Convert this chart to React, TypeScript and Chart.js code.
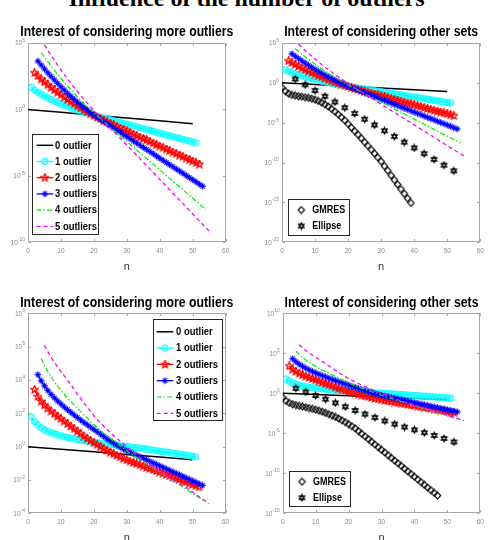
import { useEffect, useRef } from "react";
import { Chart, registerables } from "chart.js";

Chart.register(...registerables);

const FONT = "'Liberation Sans', Arial, Helvetica, sans-serif";
const AXIS_GRAY = "#a6a6a6";
const TICK_GRAY = "#8a8a8a";

// ---------- Problem 1 (top row): log10 of the residual against iteration n ----------
const top0N = [0, 10, 20, 30, 40, 50];
const top0 = [0, -0.22, -0.43, -0.65, -0.86, -1.08];
const top1Start = 1;
const top1 = [1.66, 1.46, 1.29, 1.14, 1.0, 0.87, 0.75, 0.63, 0.52, 0.42, 0.32, 0.22, 0.13, 0.04, -0.05, -0.13, -0.21, -0.29, -0.37, -0.44, -0.51,
  -0.58, -0.65, -0.71, -0.78, -0.85, -0.91, -0.98, -1.05, -1.11, -1.18, -1.25, -1.31, -1.38, -1.45, -1.52, -1.58, -1.65, -1.72, -1.78, -1.85,
  -1.92, -1.98, -2.05, -2.12, -2.18, -2.25, -2.32, -2.38, -2.45, -2.52];
const top2Start = 2;
const top2 = [2.76, 2.52, 2.29, 2.07, 1.86, 1.66, 1.47, 1.28, 1.1, 0.92, 0.75, 0.58, 0.42, 0.26, 0.11, -0.04, -0.19, -0.33, -0.47, -0.6,
  -0.71, -0.83, -0.94, -1.05, -1.17, -1.28, -1.4, -1.51, -1.62, -1.74, -1.85, -1.96, -2.08, -2.19, -2.3, -2.42, -2.53, -2.64, -2.76, -2.87,
  -2.98, -3.1, -3.21, -3.32, -3.44, -3.55, -3.66, -3.78, -3.89, -4.0, -4.12];
const top3Start = 3;
const top3 = [3.64, 3.34, 3.05, 2.76, 2.49, 2.22, 1.96, 1.7, 1.46, 1.22, 0.99, 0.77, 0.55, 0.34, 0.14, -0.05, -0.24, -0.42, -0.59,
  -0.75, -0.91, -1.08, -1.24, -1.4, -1.56, -1.72, -1.89, -2.05, -2.21, -2.37, -2.53, -2.7, -2.86, -3.02, -3.18, -3.34, -3.51, -3.67, -3.83,
  -3.99, -4.16, -4.32, -4.48, -4.64, -4.8, -4.97, -5.13, -5.29, -5.45, -5.62, -5.78];
const top4N = [4, 6, 8, 10, 12, 14, 16, 18, 20, 21, 30, 40, 54];
const top4 = [4.27, 3.6, 2.96, 2.35, 1.77, 1.22, 0.7, 0.2, -0.27, -0.5, -2.42, -4.55, -7.54];
const top5N = [5, 7, 9, 11, 13, 15, 17, 19, 21, 30, 40, 55];
const top5 = [4.85, 4.07, 3.33, 2.63, 1.97, 1.35, 0.76, 0.2, -0.35, -2.68, -5.27, -9.17];
const topGmresStart = 0;
const topGmres = [-0.57, -1.05, -1.35, -1.5, -1.6, -1.67, -1.73, -1.8, -1.89, -1.99, -2.11, -2.27, -2.47, -2.7, -2.97, -3.27, -3.6, -3.95,
  -4.32, -4.7, -5.15, -5.6, -6.05, -6.5, -6.95, -7.42, -7.9, -8.38, -8.86, -9.34, -9.85, -10.43, -11.0, -11.6, -12.17, -12.75, -13.33,
  -13.9, -14.48, -15.06];
const topEllipseN = [4, 7, 10, 13, 16, 19, 22, 25, 28, 31, 34, 37, 40, 43, 46, 49, 52];
const topEllipse = [0.48, -0.24, -0.96, -1.68, -2.4, -3.12, -3.84, -4.56, -5.28, -6.0, -6.72, -7.44, -8.16, -8.88, -9.6, -10.32, -11.04];

// ---------- Problem 2 (bottom row) ----------
const bot0N = [0, 10, 20, 30, 40, 50];
const bot0 = [0, -0.16, -0.31, -0.47, -0.62, -0.78];
const bot1Start = 1;
const bot1 = [1.78, 1.5, 1.3, 1.14, 1.02, 0.92, 0.84, 0.77, 0.71, 0.65, 0.6, 0.55, 0.51, 0.47, 0.43, 0.39, 0.36, 0.33, 0.3, 0.27,
  0.24, 0.21, 0.18, 0.16, 0.13, 0.11, 0.08, 0.06, 0.03, 0.01, -0.02, -0.04, -0.07, -0.09, -0.12, -0.15, -0.18, -0.21, -0.24, -0.27,
  -0.3, -0.33, -0.36, -0.39, -0.42, -0.45, -0.48, -0.51, -0.54, -0.58, -0.62];
const bot2Start = 2;
const bot2 = [3.42, 3.0, 2.72, 2.5, 2.3, 2.13, 1.97, 1.82, 1.67, 1.52, 1.37, 1.22, 1.07, 0.92, 0.77, 0.63, 0.49, 0.36, 0.23, 0.11,
  -0.01, -0.12, -0.23, -0.33, -0.43, -0.53, -0.62, -0.71, -0.8, -0.87, -0.95, -1.02, -1.09, -1.17, -1.24, -1.31, -1.39, -1.46, -1.53,
  -1.61, -1.68, -1.75, -1.83, -1.9, -1.97, -2.05, -2.12, -2.19, -2.27, -2.34, -2.42];
const bot3Start = 3;
const bot3 = [4.32, 3.95, 3.65, 3.38, 3.14, 2.93, 2.74, 2.56, 2.38, 2.22, 2.06, 1.9, 1.75, 1.6, 1.45, 1.31, 1.17, 1.03, 0.89, 0.75,
  0.61, 0.47, 0.34, 0.21, 0.08, -0.04, -0.15, -0.25, -0.34, -0.43, -0.52, -0.61, -0.7, -0.79, -0.88, -0.97, -1.06, -1.15, -1.24, -1.33,
  -1.42, -1.51, -1.6, -1.69, -1.78, -1.87, -1.96, -2.05, -2.14, -2.23, -2.32];
const bot4N = [4, 6, 8, 10, 12, 14, 17, 20, 23, 27, 32, 37, 42, 48, 54];
const bot4 = [5.28, 4.5, 3.88, 3.38, 2.92, 2.5, 1.9, 1.33, 0.8, 0.2, -0.52, -1.17, -1.8, -2.55, -3.32];
const bot5N = [5, 7, 9, 11, 13, 15, 18, 21, 25, 30, 35, 42, 48, 55];
const bot5 = [6.08, 5.35, 4.78, 4.25, 3.72, 3.15, 2.35, 1.62, 0.84, -0.02, -0.82, -1.72, -2.45, -3.42];
const botGmresStart = 0;
const botGmres = [-0.54, -0.95, -1.2, -1.36, -1.47, -1.56, -1.65, -1.74, -1.84, -1.94, -2.05, -2.17, -2.3, -2.45, -2.6, -2.77, -2.95,
  -3.15, -3.37, -3.6, -3.85, -4.11, -4.38, -4.72, -5.05, -5.39, -5.72, -6.06, -6.4, -6.73, -7.07, -7.4, -7.74, -8.08, -8.41, -8.75,
  -9.08, -9.42, -9.76, -10.09, -10.43, -10.76, -11.1, -11.44, -11.77, -12.11, -12.44, -12.78];
const botEllipseN = [4, 7, 10, 13, 16, 19, 22, 25, 28, 31, 34, 37, 40, 43, 46, 49, 52];
const botEllipse = [0.62, 0.17, -0.27, -0.73, -1.2, -1.68, -2.15, -2.6, -3.03, -3.45, -3.85, -4.22, -4.57, -4.92, -5.27, -5.65, -6.08];

const outlierLabels = ["0 outlier", "1 outlier", "2 outliers", "3 outliers", "4 outliers", "5 outliers"];
const methodLabels = ["GMRES", "Ellipse"];
const xTicks = [0, 10, 20, 30, 40, 50, 60];

// ---------- styling ----------
type Marker = "circle" | "pentagram" | "asterisk" | "diamond" | "hexagram";
type Style = { color: string; width: number; dash: number[]; line: boolean; marker?: Marker };
const STYLES: Record<string, Style> = {
  o0: { color: "#000000", width: 1.5, dash: [], line: true },
  o1: { color: "#00ffff", width: 1.3, dash: [], line: true, marker: "circle" },
  o2: { color: "#ff0000", width: 1.3, dash: [], line: true, marker: "pentagram" },
  o3: { color: "#0000ff", width: 1.3, dash: [], line: true, marker: "asterisk" },
  o4: { color: "#00ee00", width: 1.2, dash: [5, 2, 1.5, 2], line: true },
  o5: { color: "#ff00ff", width: 1.3, dash: [4, 3], line: true },
  gmres: { color: "#000000", width: 0, dash: [], line: false, marker: "diamond" },
  ellipse: { color: "#000000", width: 0, dash: [], line: false, marker: "hexagram" },
};

const markerCache = new Map<string, HTMLCanvasElement>();
function markerImage(kind: Marker, color: string): HTMLCanvasElement {
  const key = kind + color;
  const hit = markerCache.get(key);
  if (hit) return hit;
  const S = 9;
  const c = document.createElement("canvas");
  c.width = S;
  c.height = S;
  const g = c.getContext("2d")!;
  const m = S / 2;
  g.strokeStyle = color;
  g.lineWidth = 1.3;
  g.beginPath();
  if (kind === "circle") {
    g.arc(m, m, 2.8, 0, Math.PI * 2);
  } else if (kind === "diamond") {
    g.lineWidth = 1.1;
    g.moveTo(m, m - 3.4); g.lineTo(m + 3.2, m); g.lineTo(m, m + 3.4); g.lineTo(m - 3.2, m); g.closePath();
  } else if (kind === "asterisk") {
    g.lineWidth = 1.2;
    g.moveTo(m, m - 3.3); g.lineTo(m, m + 3.3);
    g.moveTo(m - 3.3, m); g.lineTo(m + 3.3, m);
    g.moveTo(m - 2.2, m - 2.2); g.lineTo(m + 2.2, m + 2.2);
    g.moveTo(m - 2.2, m + 2.2); g.lineTo(m + 2.2, m - 2.2);
  } else if (kind === "pentagram") {
    for (let k = 0; k < 10; k++) {
      const r = k % 2 === 0 ? 4 : 1.8;
      const ang = -Math.PI / 2 + (k * Math.PI) / 5;
      const px = m + r * Math.cos(ang), py = m + r * Math.sin(ang);
      if (k === 0) g.moveTo(px, py); else g.lineTo(px, py);
    }
    g.closePath();
  } else {
    g.lineWidth = 1.4;
    for (let t = 0; t < 2; t++) {
      for (let k = 0; k < 3; k++) {
        const ang = -Math.PI / 2 + t * Math.PI + (k * 2 * Math.PI) / 3;
        const px = m + 3.0 * Math.cos(ang), py = m + 3.0 * Math.sin(ang);
        if (k === 0) g.moveTo(px, py); else g.lineTo(px, py);
      }
      g.closePath();
    }
  }
  g.stroke();
  markerCache.set(key, c);
  return c;
}

type Series = { label: string; style: string; n: number[]; logRes: number[] };
const run = (start: number, values: number[]) => values.map((_, i) => start + i);

const topOutliers: Series[] = [
  { label: outlierLabels[0], style: "o0", n: top0N, logRes: top0 },
  { label: outlierLabels[1], style: "o1", n: run(top1Start, top1), logRes: top1 },
  { label: outlierLabels[2], style: "o2", n: run(top2Start, top2), logRes: top2 },
  { label: outlierLabels[3], style: "o3", n: run(top3Start, top3), logRes: top3 },
  { label: outlierLabels[4], style: "o4", n: top4N, logRes: top4 },
  { label: outlierLabels[5], style: "o5", n: top5N, logRes: top5 },
];
const topMethods: Series[] = [
  { label: methodLabels[0], style: "gmres", n: run(topGmresStart, topGmres), logRes: topGmres },
  { label: methodLabels[1], style: "ellipse", n: topEllipseN, logRes: topEllipse },
];
const botOutliers: Series[] = [
  { label: outlierLabels[0], style: "o0", n: bot0N, logRes: bot0 },
  { label: outlierLabels[1], style: "o1", n: run(bot1Start, bot1), logRes: bot1 },
  { label: outlierLabels[2], style: "o2", n: run(bot2Start, bot2), logRes: bot2 },
  { label: outlierLabels[3], style: "o3", n: run(bot3Start, bot3), logRes: bot3 },
  { label: outlierLabels[4], style: "o4", n: bot4N, logRes: bot4 },
  { label: outlierLabels[5], style: "o5", n: bot5N, logRes: bot5 },
];
const botMethods: Series[] = [
  { label: methodLabels[0], style: "gmres", n: run(botGmresStart, botGmres), logRes: botGmres },
  { label: methodLabels[1], style: "ellipse", n: botEllipseN, logRes: botEllipse },
];

type LegendBox = {
  x: number; y: number; w: number; h: number; first: number; row: number;
  lineX0: number; lineX1: number; markX: number; textX: number; font: number; squeeze: number;
  entries: Series[];
};
type PanelDef = {
  key: string;
  box: { x: number; y: number; w: number; h: number };
  area: { l: number; t: number; r: number; b: number };
  title: string;
  titleGap: number;
  yExp: number[];
  series: Series[];
  legend: LegendBox;
};

const PANELS: PanelDef[] = [
  {
    key: "tl",
    box: { x: 0, y: 0, w: 246, h: 272 },
    area: { l: 28, t: 43, r: 225.7, b: 242.3 },
    title: "Interest of considering more outliers",
    titleGap: 7,
    yExp: [-10, -5, 0, 5],
    series: topOutliers,
    legend: { x: 4.3, y: 91.3, w: 66, h: 99.5, first: 11, row: 16.2, lineX0: 4.3, lineX1: 21, markX: 12.6, textX: 22.7, font: 10.5, squeeze: 0.9, entries: topOutliers },
  },
  {
    key: "tr",
    box: { x: 246, y: 0, w: 247, h: 272 },
    area: { l: 282, t: 43, r: 480.3, b: 242.3 },
    title: "Interest of considering other sets",
    titleGap: 7,
    yExp: [-20, -15, -10, -5, 0, 5],
    series: [...topOutliers, ...topMethods],
    legend: { x: 6, y: 156.3, w: 61, h: 35.7, first: 10.7, row: 16, lineX0: 0, lineX1: 0, markX: 13.3, textX: 24.3, font: 10, squeeze: 0.9, entries: topMethods },
  },
  {
    key: "bl",
    box: { x: 0, y: 272, w: 246, h: 268 },
    area: { l: 28, t: 313.3, r: 225.5, b: 513.3 },
    title: "Interest of considering more outliers",
    titleGap: 6,
    yExp: [-4, -2, 0, 2, 4, 6, 8],
    series: botOutliers,
    legend: { x: 124.7, y: 6, w: 69, h: 101, first: 12.5, row: 16.3, lineX0: 4, lineX1: 20.6, markX: 12.3, textX: 23.3, font: 10.5, squeeze: 0.9, entries: botOutliers },
  },
  {
    key: "br",
    box: { x: 246, y: 272, w: 247, h: 268 },
    area: { l: 282.7, t: 313.3, r: 480.3, b: 513.3 },
    title: "Interest of considering other sets",
    titleGap: 6,
    yExp: [-15, -10, -5, 0, 5, 10],
    series: [...botOutliers, ...botMethods],
    legend: { x: 6, y: 157.7, w: 61, h: 35, first: 10.7, row: 16, lineX0: 0, lineX1: 0, markX: 13.3, textX: 24.3, font: 10, squeeze: 0.9, entries: botMethods },
  },
];

function drawMarkerAt(ctx: CanvasRenderingContext2D, st: Style, x: number, y: number) {
  if (!st.marker) return;
  const img = markerImage(st.marker, st.color);
  ctx.drawImage(img, x - img.width / 2, y - img.height / 2);
}

function panelPlugin(p: PanelDef) {
  return {
    id: "frame-" + p.key,
    beforeDatasetsDraw(chart: Chart) {
      const { ctx, chartArea: a } = chart;
      const xs = chart.scales.x;
      const ys = chart.scales.y;
      const L = Math.round(a.left) + 0.5, R = Math.round(a.right) - 0.5;
      const T = Math.round(a.top) + 0.5, B = Math.round(a.bottom) - 0.5;
      ctx.save();
      ctx.strokeStyle = AXIS_GRAY;
      ctx.lineWidth = 1;
      ctx.strokeRect(L, T, R - L, B - T);
      ctx.beginPath();
      xs.ticks.forEach((t) => {
        const px = Math.round(xs.getPixelForValue(t.value)) + 0.5;
        ctx.moveTo(px, B); ctx.lineTo(px, B - 2.5);
        ctx.moveTo(px, T); ctx.lineTo(px, T + 2.5);
      });
      ys.ticks.forEach((t) => {
        const py = Math.round(ys.getPixelForValue(t.value)) + 0.5;
        ctx.moveTo(L, py); ctx.lineTo(L + 2.5, py);
        ctx.moveTo(R, py); ctx.lineTo(R - 2.5, py);
      });
      ctx.stroke();
      ctx.restore();
    },
    afterDraw(chart: Chart) {
      const { ctx, chartArea: a } = chart;
      const ys = chart.scales.y;
      ctx.save();
      // power-of-ten tick labels with raised exponents
      ctx.fillStyle = TICK_GRAY;
      ctx.textBaseline = "alphabetic";
      ctx.textAlign = "left";
      ys.ticks.forEach((t) => {
        const py = ys.getPixelForValue(t.value);
        const ex = String(Math.round(Math.log10(t.value)));
        ctx.font = `5px ${FONT}`;
        const we = ctx.measureText(ex).width;
        ctx.font = `6.5px ${FONT}`;
        const wb = ctx.measureText("10").width;
        const xr = a.left - 3;
        ctx.fillText("10", xr - we - wb, py + 2.4);
        ctx.font = `5px ${FONT}`;
        ctx.fillText(ex, xr - we, py - 1.2);
      });
      // axes title and x label
      const cx = (a.left + a.right) / 2;
      ctx.fillStyle = "#000";
      ctx.textAlign = "center";
      ctx.font = `bold 14.5px ${FONT}`;
      ctx.save();
      ctx.translate(cx, a.top - p.titleGap);
      ctx.scale(0.845, 1);
      ctx.fillText(p.title, 0, 0);
      ctx.restore();
      ctx.fillStyle = "#333";
      ctx.font = `11px ${FONT}`;
      ctx.fillText("n", cx, a.bottom + 27.7);

      // legend
      const lg = p.legend;
      const x0 = a.left + lg.x, y0 = a.top + lg.y;
      ctx.fillStyle = "#ffffff";
      ctx.fillRect(x0, y0, lg.w, lg.h);
      ctx.strokeStyle = "#262626";
      ctx.lineWidth = 1;
      ctx.strokeRect(Math.round(x0) + 0.5, Math.round(y0) + 0.5, Math.round(lg.w), Math.round(lg.h));
      lg.entries.forEach((s, i) => {
        const st = STYLES[s.style];
        const cy = y0 + lg.first + i * lg.row;
        if (st.line && lg.lineX1 > lg.lineX0) {
          ctx.save();
          ctx.strokeStyle = st.color;
          ctx.lineWidth = st.width;
          ctx.setLineDash(st.dash);
          ctx.beginPath();
          ctx.moveTo(x0 + lg.lineX0, cy);
          ctx.lineTo(x0 + lg.lineX1, cy);
          ctx.stroke();
          ctx.restore();
        }
        drawMarkerAt(ctx, st, x0 + lg.markX, cy);
        ctx.save();
        ctx.fillStyle = "#000";
        ctx.textAlign = "left";
        ctx.textBaseline = "middle";
        ctx.font = `bold ${lg.font}px ${FONT}`;
        ctx.translate(x0 + lg.textX, cy + 0.5);
        ctx.scale(lg.squeeze, 1);
        ctx.fillText(s.label, 0, 0);
        ctx.restore();
      });
      ctx.restore();
    },
  };
}

function buildConfig(p: PanelDef): any {
  const datasets = p.series.map((s, i) => {
    const st = STYLES[s.style];
    return {
      label: s.label,
      data: s.n.map((n, k) => ({ x: n, y: Math.pow(10, s.logRes[k]) })),
      borderColor: st.color,
      backgroundColor: st.color,
      borderWidth: st.width,
      borderDash: st.dash,
      showLine: st.line,
      tension: 0,
      pointStyle: st.marker ? markerImage(st.marker, st.color) : "circle",
      pointRadius: st.marker ? 3 : 0,
      order: -i,
    };
  });
  const xh = p.box.y + p.box.h - p.area.b;
  const yw = p.area.l - p.box.x;
  return {
    type: "line",
    data: { datasets },
    options: {
      animation: false,
      responsive: false,
      devicePixelRatio: 1,
      events: [],
      layout: {
        padding: { left: 0, top: p.area.t - p.box.y, right: p.box.x + p.box.w - p.area.r, bottom: 0 },
      },
      plugins: { legend: { display: false }, title: { display: false }, tooltip: { enabled: false } },
      scales: {
        x: {
          type: "linear",
          min: 0,
          max: 60,
          grid: { display: false, drawTicks: false },
          border: { display: false },
          afterBuildTicks: (s: any) => { s.ticks = xTicks.map((v) => ({ value: v })); },
          afterFit: (s: any) => { s.height = xh; },
          ticks: { color: TICK_GRAY, font: { family: FONT, size: 6.5 }, padding: 5.5, maxRotation: 0, autoSkip: false },
        },
        y: {
          type: "logarithmic",
          min: Math.pow(10, p.yExp[0]),
          max: Math.pow(10, p.yExp[p.yExp.length - 1]),
          grid: { display: false, drawTicks: false },
          border: { display: false },
          afterBuildTicks: (s: any) => { s.ticks = p.yExp.map((e) => ({ value: Math.pow(10, e) })); },
          afterFit: (s: any) => { s.width = yw; },
          ticks: { display: false },
        },
      },
    },
    plugins: [panelPlugin(p)],
  };
}

function Panel({ panel }: { panel: PanelDef }) {
  const ref = useRef<HTMLCanvasElement>(null);
  useEffect(() => {
    const chart = new Chart(ref.current!, buildConfig(panel));
    return () => chart.destroy();
  }, [panel]);
  const b = panel.box;
  return (
    <canvas
      ref={ref}
      width={b.w}
      height={b.h}
      style={{ position: "absolute", left: b.x, top: b.y, width: b.w, height: b.h, display: "block" }}
    />
  );
}

export default function App() {
  return (
    <div style={{ position: "absolute", left: 0, top: 0, width: 493, height: 540, overflow: "hidden", background: "#ffffff" }}>
      <div
        style={{
          position: "absolute",
          left: 0,
          top: -13.8,
          width: 493,
          textAlign: "center",
          fontFamily: "'Liberation Serif', 'Times New Roman', serif",
          fontWeight: "bold",
          fontSize: 24,
          lineHeight: "24px",
          whiteSpace: "nowrap",
        }}
      >
        Influence of the number of outliers
      </div>
      {PANELS.map((p) => (
        <Panel key={p.key} panel={p} />
      ))}
    </div>
  );
}
